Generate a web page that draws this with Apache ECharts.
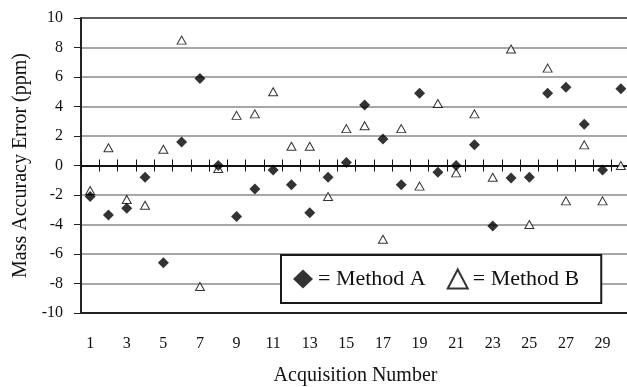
<!DOCTYPE html>
<html>
<head>
<meta charset="utf-8">
<script src="https://cdn.jsdelivr.net/npm/echarts@6/dist/echarts.min.js"></script>
<style>
html,body{margin:0;padding:0;background:#fff;}
#chart{width:627px;height:387px;}
</style>
</head>
<body>
<div id="chart"></div>
<script>
const categories = ['1','2','3','4','5','6','7','8','9','10','11','12','13','14','15','16','17','18','19','20','21','22','23','24','25','26','27','28','29','30'];
const methodA = [-2.1,-3.35,-2.9,-0.8,-6.6,1.6,5.9,0.0,-3.45,-1.6,-0.3,-1.3,-3.2,-0.8,0.2,4.1,1.8,-1.3,4.9,-0.45,0.0,1.4,-4.1,-0.85,-0.8,4.9,5.3,2.8,-0.3,5.2];
const methodB = [-1.7,1.2,-2.3,-2.7,1.1,8.5,-8.2,-0.2,3.4,3.5,5.0,1.3,1.3,-2.1,2.5,2.7,-5.0,2.5,-1.4,4.2,-0.5,3.5,-0.8,7.9,-4.0,6.6,-2.4,1.4,-2.4,0.0];
const yMin = -10, yMax = 10, yStep = 2;
const xTitle = 'Acquisition Number';
const yTitle = 'Mass Accuracy Error (ppm)';
const seriesNames = ['Method A','Method B'];

const font = 'Liberation Serif';
const chart = echarts.init(document.getElementById('chart'));
const gridColors = [];
for (let v = yMin; v <= yMax; v += yStep) gridColors.push(v === yMax ? '#2a2a2a' : (v === 0 ? '#111' : '#8a8a8a'));

// plot geometry
const L = 81, R = -3, T = 18, B = 74, H = 387 - T - B;
const zeroY = T + H * (yMax - 0) / (yMax - yMin);
const ob = { left: -80, right: -80, top: -80, bottom: -80 };

const hiddenY = (gi) => ({
  gridIndex: gi, type: 'value', min: 0, max: 1, show: false
});
const tickAxis = (gi, pos) => ({
  gridIndex: gi, type: 'category', data: categories, position: pos,
  axisLine: { onZero: false, show: true, lineStyle: { color: '#111', width: 1.5 } },
  axisTick: { show: true, inside: true, length: 6, lineStyle: { color: '#111', width: 1 } },
  axisLabel: { show: false }, splitLine: { show: false }
});

chart.setOption({
  animation: false,
  backgroundColor: '#fff',
  textStyle: { fontFamily: font },
  grid: [
    { left: L, right: R, top: T, bottom: B, outerBounds: ob },
    { left: L, right: R, top: T, bottom: 387 - zeroY, outerBounds: ob },
    { left: L, right: R, top: zeroY, bottom: B, outerBounds: ob }
  ],
  legend: {
    left: 281, top: 255,
    orient: 'horizontal',
    backgroundColor: '#fff',
    borderColor: '#1a1a1a', borderWidth: 2,
    padding: [13, 22, 13, 12],
    itemGap: 21,
    itemWidth: 20, itemHeight: 19,
    formatter: '= {name}',
    textStyle: { fontFamily: font, fontSize: 22, color: '#111' },
    data: [
      { name: seriesNames[0], icon: 'diamond', itemStyle: { color: '#000' } },
      { name: seriesNames[1], icon: 'triangle', itemStyle: { color: '#fff', borderColor: '#000', borderWidth: 2 } }
    ]
  },
  xAxis: [
    {
      gridIndex: 0, type: 'category', data: categories, position: 'bottom',
      axisLine: { onZero: false, lineStyle: { color: '#222', width: 2 } },
      axisTick: { show: false },
      axisLabel: { interval: 1, margin: 23, fontSize: 16, color: '#111', fontFamily: font },
      splitLine: { show: false },
      name: xTitle, nameLocation: 'middle', nameGap: 53,
      nameTextStyle: { fontSize: 20, color: '#111', fontFamily: font }
    },
    tickAxis(1, 'bottom'),
    tickAxis(2, 'top')
  ],
  yAxis: [
    {
      gridIndex: 0, type: 'value', min: yMin, max: yMax, interval: yStep,
      axisLine: { show: true, onZero: false, lineStyle: { color: '#222', width: 2 } },
      axisTick: { show: true, inside: false, length: 7, lineStyle: { color: '#222', width: 1 } },
      axisLabel: { margin: 18, fontSize: 16, color: '#111', fontFamily: font },
      splitLine: { show: true, lineStyle: { color: gridColors, width: 1.6 } },
      name: yTitle, nameLocation: 'middle', nameGap: 48, nameRotate: 90,
      nameTextStyle: { fontSize: 20, color: '#111', fontFamily: font }
    },
    hiddenY(1),
    hiddenY(2)
  ],
  series: [
    {
      name: seriesNames[0], type: 'scatter', xAxisIndex: 0, yAxisIndex: 0,
      data: methodA, symbol: 'diamond', symbolSize: 11,
      itemStyle: { color: '#000' }, z: 3
    },
    {
      name: seriesNames[1], type: 'scatter', xAxisIndex: 0, yAxisIndex: 0,
      data: methodB, symbol: 'triangle', symbolSize: [9, 8],
      itemStyle: { color: '#fff', borderColor: '#000', borderWidth: 1 }, z: 2
    }
  ]
});
</script>
</body>
</html>
